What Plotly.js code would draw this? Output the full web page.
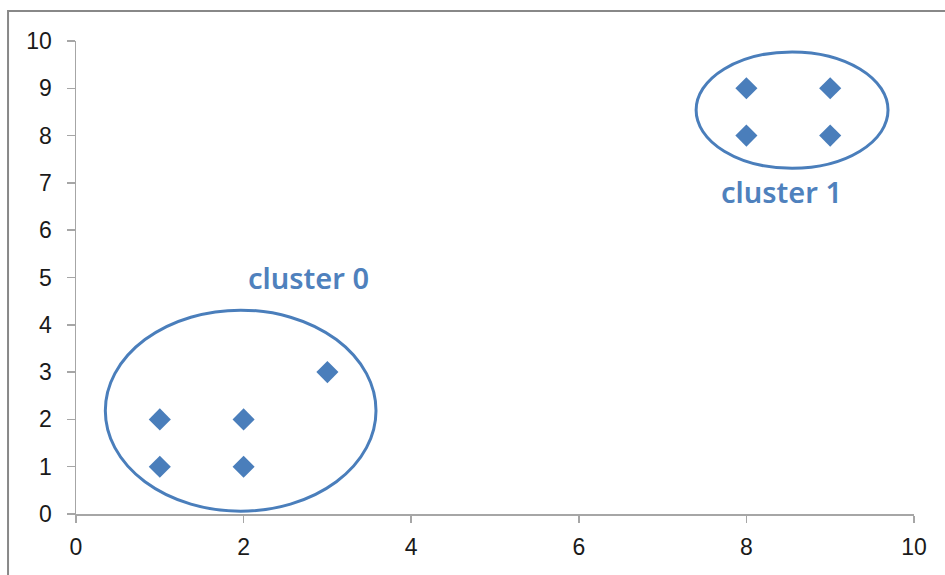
<!DOCTYPE html>
<html>
<head>
<meta charset="utf-8">
<script src="https://cdn.plot.ly/plotly-3.0.1.min.js"></script>
<style>html,body{margin:0;padding:0;background:#fff;}#chart{width:945px;height:575px;}</style>
</head>
<body>
<div id="chart"></div>
<script>
var pointsX = [1, 1, 2, 2, 3, 8, 8, 9, 9];
var pointsY = [1, 2, 1, 2, 3, 8, 9, 8, 9];
var tickVals = [0, 1, 2, 3, 4, 5, 6, 7, 8, 9, 10];
var xTickVals = [0, 2, 4, 6, 8, 10];
var clusterLabels = ["cluster 0", "cluster 1"];

var blue = '#4a7ebb';
var axisGray = '#a6a6a6';
var tickFont = {family: 'Liberation Sans, Arial, sans-serif', size: 23, color: '#1a1a1a'};
var labelFont = {family: 'Noto Sans, DejaVu Sans, sans-serif', size: 29, color: '#4f81bd', weight: 600};

var trace = {
  x: pointsX, y: pointsY, type: 'scatter', mode: 'markers',
  marker: {symbol: 'diamond', size: 17, color: blue},
  hoverinfo: 'skip'
};

var layout = {
  width: 945, height: 575,
  margin: {l: 76, r: 31, t: 41, b: 61},
  paper_bgcolor: '#fff', plot_bgcolor: '#fff',
  showlegend: false,
  xaxis: {
    range: [0, 10], tickvals: xTickVals, ticktext: xTickVals.map(String), tickfont: tickFont,
    showgrid: false, zeroline: false, showline: true, linecolor: axisGray, linewidth: 1.5,
    ticks: 'outside', ticklen: 7, tickcolor: axisGray, tickwidth: 1.5, ticklabelstandoff: 5
  },
  yaxis: {
    range: [0, 10], tickvals: tickVals, ticktext: tickVals.map(String), tickfont: tickFont,
    showgrid: false, zeroline: false, showline: true, linecolor: axisGray, linewidth: 1.5,
    ticks: 'outside', ticklen: 8, tickcolor: axisGray, tickwidth: 1.5, ticklabelstandoff: 10
  },
  shapes: [
    {type: 'rect', xref: 'paper', yref: 'paper', x0: -0.0811, x1: 1.2, y0: -0.3, y1: 1.0634,
     line: {color: '#888888', width: 2}, layer: 'below'},
    {type: 'circle', xref: 'x', yref: 'y', x0: 0.35, x1: 3.58, y0: 0.06, y1: 4.31,
     line: {color: blue, width: 3}},
    {type: 'circle', xref: 'x', yref: 'y', x0: 7.40, x1: 9.69, y0: 7.31, y1: 9.77,
     line: {color: blue, width: 3}}
  ],
  annotations: [
    {x: 2.77, y: 4.99, xref: 'x', yref: 'y', text: clusterLabels[0], showarrow: false, font: labelFont},
    {x: 8.42, y: 6.81, xref: 'x', yref: 'y', text: clusterLabels[1], showarrow: false, font: labelFont}
  ]
};

Plotly.newPlot('chart', [trace], layout, {staticPlot: true, displayModeBar: false});
</script>
</body>
</html>
